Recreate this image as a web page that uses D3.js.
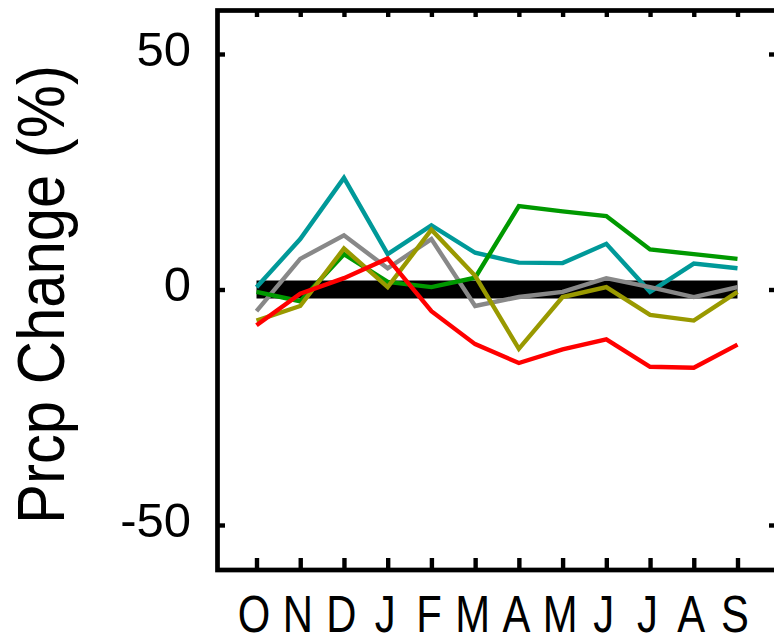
<!DOCTYPE html>
<html>
<head>
<meta charset="utf-8">
<script src="https://cdn.jsdelivr.net/npm/d3@7"></script>
<style>
  html, body { margin: 0; padding: 0; background: #fff; }
  svg { display: block; }
  text { font-family: "Liberation Sans", Arial, sans-serif; fill: #000; }
</style>
</head>
<body>
<div id="chart"></div>
<script>
// Months (Oct -> Sep)
const months = ['O', 'N', 'D', 'J', 'F', 'M', 'A', 'M', 'J', 'J', 'A', 'S'];
const yTicks = [-50, 0, 50];

// Precip change (%) per member
const baseline = [0, 0, 0, 0, 0, 0, 0, 0, 0, 0, 0, 0];
const cyanSeries = [0.5, 10.7, 23.7, 7.5, 13.6, 7.8, 5.7, 5.6, 9.7, -0.5, 5.5, 4.5];
const graySeries = [-4.6, 6.5, 11.5, 4.5, 10.7, -3.5, -1.6, -0.5, 2.4, 0.5, -1.6, 0.5];
const greenSeries = [-0.5, -2.5, 7.5, 1.6, 0.5, 2.5, 17.7, 16.6, 15.6, 8.5, 7.5, 6.5];
const oliveSeries = [-6.6, -3.5, 8.7, 0.5, 12.7, 2.9, -12.6, -1.6, 0.5, -5.4, -6.6, -0.5];
const redSeries = [-7.6, -0.9, 2.4, 6.6, -4.6, -11.6, -15.6, -12.7, -10.6, -16.4, -16.6, -11.7];

const series = [
  { values: cyanSeries, color: '#009999' },
  { values: graySeries, color: '#888888' },
  { values: greenSeries, color: '#009900' },
  { values: oliveSeries, color: '#999900' },
  { values: redSeries, color: '#ff0000' }
];

const width = 774;
const height = 636;
const frame = { left: 217.5, right: 778, top: 10.5, bottom: 570 };

const svg = d3.select('#chart')
  .append('svg')
  .attr('width', width)
  .attr('height', height);

const x = d3.scaleLinear()
  .domain([0, months.length - 1])
  .range([256.5, 737.5]);

const y = d3.scaleLinear()
  .domain([-50, 50])
  .range([525, 54]);

const line = d3.line()
  .x((d, i) => x(i))
  .y(d => y(d));

// Thick black zero band
svg.append('path')
  .datum(baseline)
  .attr('fill', 'none')
  .attr('stroke', '#000')
  .attr('stroke-width', 18)
  .attr('d', line);

// Member lines
svg.selectAll('.member')
  .data(series)
  .enter()
  .append('path')
  .attr('class', 'member')
  .attr('fill', 'none')
  .attr('stroke', d => d.color)
  .attr('stroke-width', 4.4)
  .attr('stroke-linejoin', 'miter')
  .attr('d', d => line(d.values));

// Frame
svg.append('rect')
  .attr('x', frame.left)
  .attr('y', frame.top)
  .attr('width', frame.right - frame.left)
  .attr('height', frame.bottom - frame.top)
  .attr('fill', 'none')
  .attr('stroke', '#000')
  .attr('stroke-width', 4.7);

// Bottom axis with month letters
const xAxis = svg.append('g')
  .attr('transform', `translate(0,${frame.bottom})`)
  .call(d3.axisBottom(x)
    .tickValues(d3.range(months.length))
    .tickSize(-12)
    .tickPadding(26)
    .tickFormat(i => months[i]));

xAxis.select('.domain').remove();
xAxis.selectAll('line').attr('stroke', '#000').attr('stroke-width', 4.4);
xAxis.selectAll('text')
  .style('font-size', '51px')
  .attr('transform', 'translate(-3,0) scale(0.82,1)');

// Top ticks
const topAxis = svg.append('g')
  .attr('transform', `translate(0,${frame.top})`)
  .call(d3.axisTop(x)
    .tickValues(d3.range(months.length))
    .tickSize(-6.5)
    .tickFormat(''));
topAxis.select('.domain').remove();
topAxis.selectAll('line').attr('stroke', '#000').attr('stroke-width', 4.4);

// Left axis (plain hyphen for the minus, as in the original)
const yAxis = svg.append('g')
  .attr('transform', `translate(${frame.left},0)`)
  .call(d3.axisLeft(y)
    .tickValues(yTicks)
    .tickSize(-7.5)
    .tickPadding(26.5)
    .tickFormat(d => String(d)));

yAxis.select('.domain').remove();
yAxis.selectAll('line').attr('stroke', '#000').attr('stroke-width', 4.4);
yAxis.selectAll('text')
  .style('font-size', '49px')
  .attr('y', -4.5);

// Right ticks
const rightAxis = svg.append('g')
  .attr('transform', `translate(${frame.right},0)`)
  .call(d3.axisRight(y)
    .tickValues(yTicks)
    .tickSize(-9)
    .tickFormat(''));
rightAxis.select('.domain').remove();
rightAxis.selectAll('line').attr('stroke', '#000').attr('stroke-width', 4.4);

// Y axis title
svg.append('text')
  .attr('transform', 'translate(64,294.5) rotate(-90) scale(0.893,1)')
  .attr('text-anchor', 'middle')
  .style('font-size', '67px')
  .text('Prcp Change (%)');
</script>
</body>
</html>
